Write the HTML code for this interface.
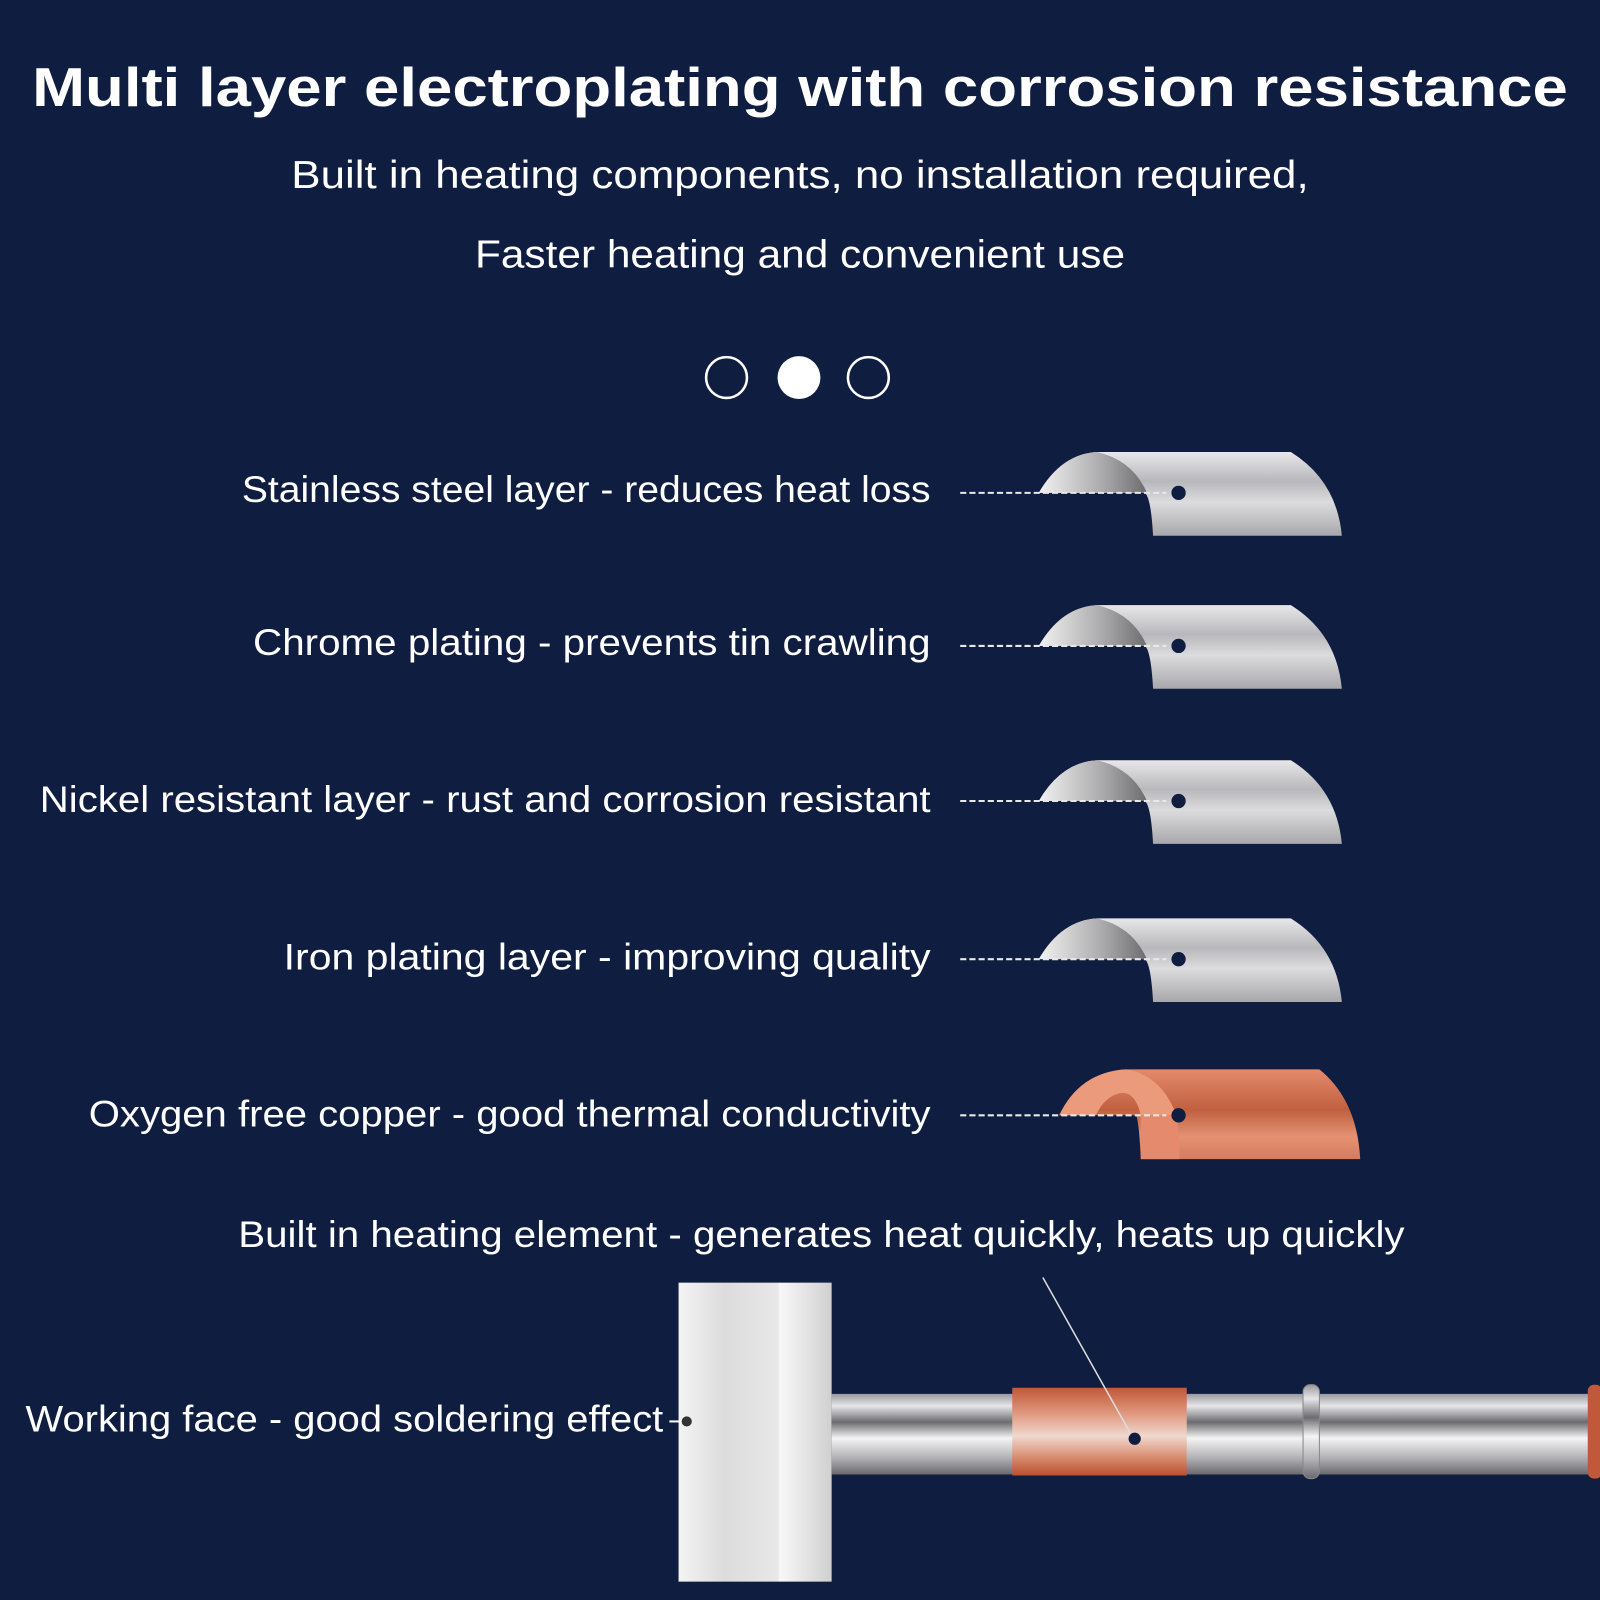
<!DOCTYPE html>
<html><head><meta charset="utf-8"><style>
html,body{margin:0;padding:0;background:#0f1d40;width:1600px;height:1600px;overflow:hidden}
svg{display:block}
text{font-family:"Liberation Sans",sans-serif;fill:#fff}
</style></head><body>
<svg width="1600" height="1600" viewBox="0 0 1568 1568" xmlns="http://www.w3.org/2000/svg">
<defs>
<linearGradient id="steel" x1="0" y1="0" x2="0" y2="1">
<stop offset="0" stop-color="#e8e8ea"/><stop offset="0.35" stop-color="#b8b8bc"/><stop offset="0.6" stop-color="#dcdcde"/><stop offset="1" stop-color="#a8a8ac"/>
</linearGradient>
<linearGradient id="inner" x1="0" y1="0" x2="1" y2="0">
<stop offset="0" stop-color="#f2f2f2"/><stop offset="0.6" stop-color="#a9a9ab"/><stop offset="1" stop-color="#6d6d70"/>
</linearGradient>
<linearGradient id="cop" x1="0" y1="0" x2="0" y2="1">
<stop offset="0" stop-color="#e48a6c"/><stop offset="0.45" stop-color="#c0603f"/><stop offset="0.75" stop-color="#e49274"/><stop offset="1" stop-color="#d97a5c"/>
</linearGradient>
<linearGradient id="rod" x1="0" y1="0" x2="0" y2="1">
<stop offset="0" stop-color="#9a9a9e"/><stop offset="0.15" stop-color="#e6e6e8"/><stop offset="0.35" stop-color="#6c6c70"/><stop offset="0.55" stop-color="#f4f4f4"/><stop offset="0.8" stop-color="#b0b0b4"/><stop offset="1" stop-color="#6a6a6e"/>
</linearGradient>
<linearGradient id="band" x1="0" y1="0" x2="0" y2="1">
<stop offset="0" stop-color="#c0583a"/><stop offset="0.3" stop-color="#e09a80"/><stop offset="0.55" stop-color="#f0d8d0"/><stop offset="0.8" stop-color="#d88a6c"/><stop offset="1" stop-color="#b8502f"/>
</linearGradient>
<linearGradient id="block" x1="0" y1="0" x2="1" y2="0">
<stop offset="0" stop-color="#f4f4f4"/><stop offset="0.3" stop-color="#dcdcdc"/><stop offset="0.65" stop-color="#e8e8e8"/><stop offset="0.66" stop-color="#f8f8f8"/><stop offset="1" stop-color="#d0d0d0"/>
</linearGradient>
<g id="pipe">
<path d="M0,0 Q22,-38 57,-40 L247,-40 Q292,-12 297,42 L112,42 Q110,5 104,0 Z" fill="url(#steel)"/>
<path d="M0,0 Q22,-38 57,-40 Q92,-32 106,0 Z" fill="url(#inner)"/>
<line x1="-77" y1="0" x2="125" y2="0" stroke="#e8e8e8" stroke-width="2" stroke-dasharray="6,3"/>
<circle cx="137" cy="0" r="7" fill="#0f1d40"/>
</g>
</defs>
<text x="784" y="104" text-anchor="middle" font-size="54" font-weight="bold" textLength="1505" lengthAdjust="spacingAndGlyphs">Multi layer electroplating with corrosion resistance</text>
<text x="784" y="184" text-anchor="middle" font-size="38" textLength="997" lengthAdjust="spacingAndGlyphs">Built in heating components, no installation required,</text>
<text x="784" y="262" text-anchor="middle" font-size="38" textLength="637" lengthAdjust="spacingAndGlyphs">Faster heating and convenient use</text>
<circle cx="712" cy="370" r="20" fill="none" stroke="#fff" stroke-width="2.5"/>
<circle cx="783" cy="370" r="21" fill="#fff"/>
<circle cx="851" cy="370" r="20" fill="none" stroke="#fff" stroke-width="2.5"/>

<g font-size="36" text-anchor="end">
<text x="912" y="492" textLength="675" lengthAdjust="spacingAndGlyphs">Stainless steel layer - reduces heat loss</text>
<text x="912" y="642" textLength="664" lengthAdjust="spacingAndGlyphs">Chrome plating - prevents tin crawling</text>
<text x="912" y="796" textLength="873" lengthAdjust="spacingAndGlyphs">Nickel resistant layer - rust and corrosion resistant</text>
<text x="912" y="950" textLength="634" lengthAdjust="spacingAndGlyphs">Iron plating layer - improving quality</text>
<text x="912" y="1104" textLength="825" lengthAdjust="spacingAndGlyphs">Oxygen free copper - good thermal conductivity</text>
</g>
<use href="#pipe" x="1018" y="483"/>
<use href="#pipe" x="1018" y="633"/>
<use href="#pipe" x="1018" y="785"/>
<use href="#pipe" x="1018" y="940"/>

<g transform="translate(1038,1093)">
<path d="M0,0 Q20,-42 65,-45 L255,-45 Q292,-15 295,43 L80,43 Q78,2 75,0 Z" fill="url(#cop)"/>
<path d="M0,0 Q20,-42 65,-45 Q100,-40 115,0 L80,0 Q75,-22 62,-22 Q45,-20 36,0 Z" fill="#ec9a7c"/>
<path d="M80,0 L115,0 Q118,20 118,43 L80,43 Z" fill="#e58a6c"/>
<line x1="-97" y1="0" x2="105" y2="0" stroke="#e8e8e8" stroke-width="2" stroke-dasharray="6,3"/>
<circle cx="117" cy="0" r="7" fill="#0f1d40"/>
</g>

<text x="805" y="1222" text-anchor="middle" font-size="36" textLength="1143" lengthAdjust="spacingAndGlyphs">Built in heating element - generates heat quickly, heats up quickly</text>

<rect x="665" y="1257" width="150" height="293" fill="url(#block)"/>
<rect x="815" y="1366" width="760" height="79" fill="url(#rod)"/>
<rect x="992" y="1360" width="171" height="86" fill="url(#band)"/>
<rect x="1277" y="1357" width="16" height="92" rx="7" fill="url(#rod)" stroke="#888" stroke-width="1"/>
<rect x="1556" y="1357" width="14" height="92" rx="6" fill="#c0583a"/>
<line x1="1022" y1="1252" x2="1108" y2="1405" stroke="#ddd" stroke-width="1.5"/>
<circle cx="1112" cy="1410" r="6" fill="#0f1d40"/>
<text x="650" y="1403" text-anchor="end" font-size="36" textLength="625" lengthAdjust="spacingAndGlyphs">Working face - good soldering effect</text>
<line x1="656" y1="1393" x2="668" y2="1393" stroke="#fff" stroke-width="2"/>
<circle cx="673" cy="1393" r="5" fill="#333"/>
</svg>
</body></html>
